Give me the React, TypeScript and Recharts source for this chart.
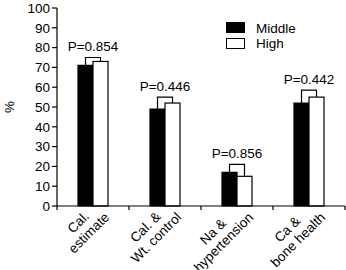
import React from 'react'
import { Bar, BarChart, Legend, XAxis, YAxis } from 'recharts'

const categories = [
  ['Cal.', 'estimate'],
  ['Cal. &', 'Wt. control'],
  ['Na &', 'hypertension'],
  ['Ca &', 'bone health'],
]
const middle = [71, 49, 17, 52]
const high = [73, 52, 15, 55]
const bracket = [75, 55, 21, 58.5]
const pValues = ['P=0.854', 'P=0.446', 'P=0.856', 'P=0.442']
const yTicks = [0, 10, 20, 30, 40, 50, 60, 70, 80, 90, 100]

const FONT = '"Liberation Sans", Arial, sans-serif'
const FS = 13.5
const W = 346
const H = 270
const MARGIN = { top: 8, right: 1, bottom: 0, left: 0 }
const Y_AXIS_W = 57
const X_AXIS_H = 64
const BAND = (W - MARGIN.left - MARGIN.right - Y_AXIS_W) / categories.length

const data = categories.map((c, i) => ({
  name: c.join(' '),
  lines: c,
  middle: middle[i],
  high: high[i],
  bracket: bracket[i],
  p: pValues[i],
}))

let ctx: CanvasRenderingContext2D | null = null
function textWidth(s: string) {
  if (!ctx) ctx = document.createElement('canvas').getContext('2d')
  if (!ctx) return s.length * 6.5
  ctx.font = `${FS}px "Liberation Sans"`
  return ctx.measureText(s).width
}

// white bar + the bracket and P label above the pair
const HighShape = (props: any) => {
  const { x, y, width, height, payload } = props
  const base = y + height
  const ppu = height / payload.high
  const blackTop = base - payload.middle * ppu
  const brY = base - payload.bracket * ppu
  const bx = x - width / 2
  const wx = x + width / 2
  return (
    <g>
      <rect x={x} y={y} width={width} height={height} fill="#fff" stroke="#000" strokeWidth={1.2} />
      <path
        d={`M${bx},${blackTop} V${brY} H${wx} V${y}`}
        fill="none"
        stroke="#000"
        strokeWidth={1.2}
      />
      <text x={x} y={brY - 6.5} textAnchor="middle" fontSize={FS} fill="#000">
        {payload.p}
      </text>
    </g>
  )
}

const renderTick = (props: any) => {
  const { x, y, index } = props
  const lines: string[] = data[index].lines
  const w = Math.max(...lines.map(textWidth))
  const left = x - BAND / 2
  const ox = x - 2
  const oy = y - 7
  return (
    <g key={`tick-${index}`}>
      <line x1={left} y1={y} x2={left} y2={y + 4} stroke="#000" strokeWidth={1.2} />
      {index === data.length - 1 && (
        <line x1={x + BAND / 2} y1={y} x2={x + BAND / 2} y2={y + 4} stroke="#000" strokeWidth={1.2} />
      )}
      {lines.map((l, i) => (
        <text
          key={i}
          x={0}
          y={0}
          transform={`translate(${ox},${oy}) rotate(-45) translate(${-w / 2},${12 + i * 15})`}
          textAnchor="middle"
          fontSize={FS}
          fill="#000"
        >
          {l}
        </text>
      ))}
    </g>
  )
}

const LegendBox = () => (
  <svg width={110} height={32} style={{ display: 'block', fontFamily: FONT }}>
    <rect x={0.5} y={0.5} width={18} height={10} fill="#000" stroke="#000" />
    <text x={30} y={10.5} fontSize={FS} fill="#000">Middle</text>
    <rect x={0.5} y={16.5} width={18} height={10} fill="#fff" stroke="#000" />
    <text x={30} y={26} fontSize={FS} fill="#000">High</text>
  </svg>
)

export default function App() {
  return (
    <div style={{ position: 'absolute', left: 0, top: 0, width: W, height: H, background: '#fff', fontFamily: FONT }}>
      <BarChart width={W} height={H} data={data} margin={MARGIN} barSize={15} barGap={0}>
        <YAxis
          width={Y_AXIS_W}
          domain={[0, 100]}
          ticks={yTicks}
          interval={0}
          tickSize={5}
          tickMargin={2}
          axisLine={{ stroke: '#000', strokeWidth: 1.2 }}
          tickLine={{ stroke: '#000', strokeWidth: 1.2 }}
          tick={{ fill: '#000', fontSize: FS }}
          label={{
            content: () => (
              <text x={9} y={107} transform="rotate(-90 9 107)" textAnchor="middle" dominantBaseline="central" fontSize={FS} fill="#000">
                %
              </text>
            ),
          }}
        />
        <XAxis
          dataKey="name"
          height={X_AXIS_H}
          interval={0}
          tickLine={false}
          tickSize={0}
          tickMargin={0}
          axisLine={{ stroke: '#000', strokeWidth: 1.2 }}
          tick={renderTick}
        />
        <Legend
          layout="vertical"
          align="center"
          verticalAlign="middle"
          content={<LegendBox />}
          wrapperStyle={{ left: 226, top: 22, width: 110 }}
        />
        <Bar dataKey="middle" fill="#000" stroke="#000" strokeWidth={1.2} isAnimationActive={false} />
        <Bar dataKey="high" shape={<HighShape />} isAnimationActive={false} />
      </BarChart>
    </div>
  )
}
